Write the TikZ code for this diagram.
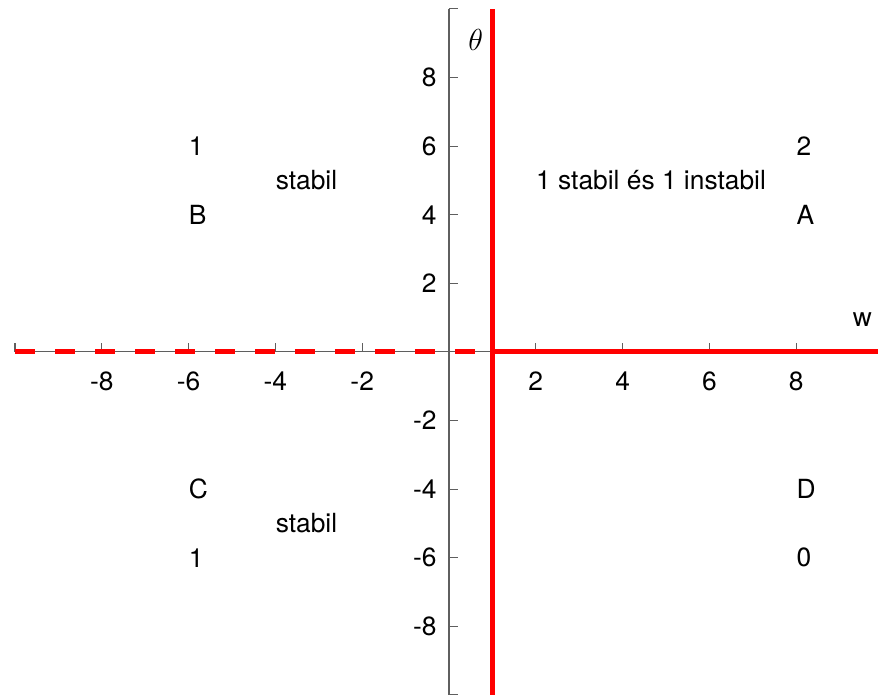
\documentclass[tikz,border=0pt]{standalone}
\usepackage{fontspec}
\setmainfont{TeX Gyre Heros}
\usepackage{tikz}
\usetikzlibrary{positioning}
\definecolor{axisgray}{RGB}{95,95,95}
\definecolor{brightred}{RGB}{255,0,0}

\begin{document}
\begin{tikzpicture}[x=0.868cm,y=0.686cm,font=\fontsize{15}{17}\selectfont,
  axisline/.style={axisgray,line width=0.6pt},
  branch/.style={brightred,line width=2.9pt},
  lbl/.style={anchor=west,inner sep=0pt}]
\useasboundingbox (-10.346,-10.03) rectangle (9.885,10.26);
% axes with inward ticks
\draw[axisline] (-10,0)--(10,0);
\draw[axisline] (0,-10)--(0,10);
\foreach \x in {-10,-8,...,10} \draw[axisline] (\x,0)--++(0,0.26);
\foreach \y in {-10,-8,...,10} \draw[axisline] (0,\y)--++(0.21,0);
\foreach \x in {-8,-6,-4,-2,2,4,6,8} \node[anchor=north,inner sep=0pt] (xt\x) at (\x,-0.57) {\x};
\foreach \y in {-8,-6,-4,-2,2,4,6,8} \node[anchor=east,inner sep=0pt] (yt\y) at (-0.28,\y) {\y};
\node[lbl] (theta) at (0.44,9.1) {\fontsize{16}{18}\selectfont$\theta$};
\node[lbl] (w) at (9.3,0.95) {w};
% bifurcation lines
\draw[branch,dash pattern=on 0.4cm off 0.4cm] (-10,0)--(1,0);
\draw[branch] (1,0)--(9.885,0);
\draw[branch] (1,-10)--(1,10);
% regions
\node[lbl] (nB1) at (-6,6) {1};
\node[lbl] (nB) at (-6,4) {B};
\node[lbl] (sB) at (-4,5) {stabil};
\node[lbl] (nA2) at (8,6) {2};
\node[lbl] (nA) at (8,4) {A};
\node[lbl] (sA) at (2,5) {1 stabil és 1 instabil};
\node[lbl] (nC) at (-6,-4) {C};
\node[lbl] (sC) at (-4,-5) {stabil};
\node[lbl] (nC1) at (-6,-6) {1};
\node[lbl] (nD) at (8,-4) {D};
\node[lbl] (nD0) at (8,-6) {0};
\end{tikzpicture}
\end{document}
